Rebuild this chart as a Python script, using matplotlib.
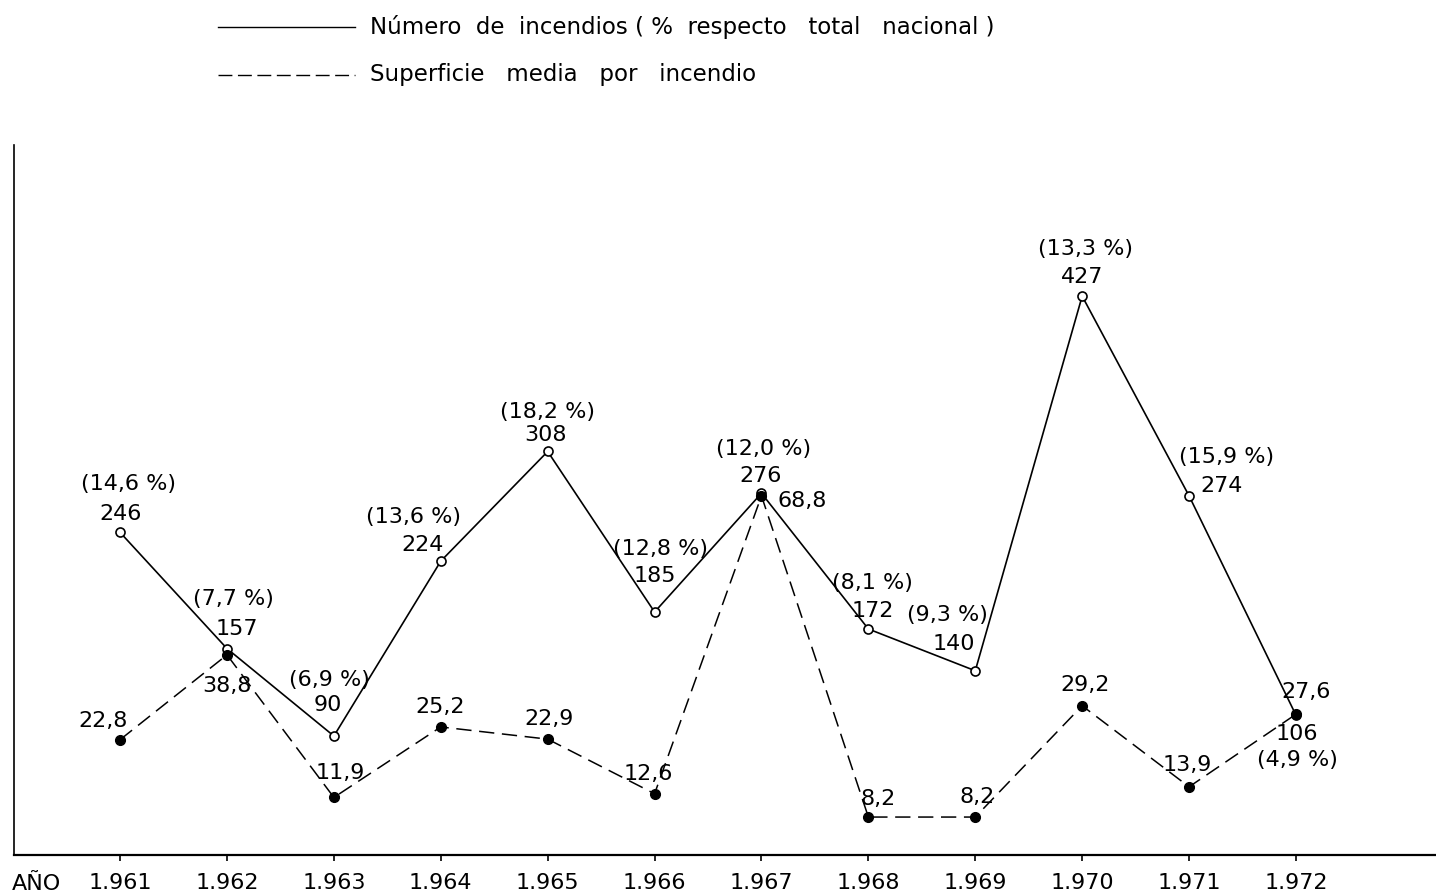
import matplotlib
matplotlib.use("Agg")
import matplotlib.pyplot as plt
from matplotlib.lines import Line2D

# ---------------- data ----------------
years = [1961, 1962, 1963, 1964, 1965, 1966, 1967, 1968, 1969, 1970, 1971, 1972]
year_labels = ["1.961", "1.962", "1.963", "1.964", "1.965", "1.966",
               "1.967", "1.968", "1.969", "1.970", "1.971", "1.972"]
num_incendios = [246, 157, 90, 224, 308, 185, 276, 172, 140, 427, 274, 106]
pct_nacional = ["14,6", "7,7", "6,9", "13,6", "18,2", "12,8",
                "12,0", "8,1", "9,3", "13,3", "15,9", "4,9"]
superficie_media = [22.8, 38.8, 11.9, 25.2, 22.9, 12.6, 68.8, 8.2, 8.2, 29.2, 13.9, 27.6]

legend_labels = ["Número  de  incendios ( %  respecto   total   nacional )",
                 "Superficie   media   por   incendio"]
axis_label = "AÑO"

# ---------------- layout (label offsets in pixels) ----------------
num_off = [(0, 18), (10, 20), (-6, 31), (-18, 16), (-2, 16), (0, 36),
           (-1, 17), (4, 18), (-21, 27), (0, 19), (32, 10), (1, -19)]
pct_off = [(8, 48), (6, 50), (-4, 56), (-27, 44), (0, 39), (6, 63),
           (2, 44), (4, 46), (-28, 56), (3, 47), (37, 39), (1, -45)]
sup_off = [(-17, 19), (0, -31), (6, 24), (-1, 20), (1, 20), (-6, 20),
           (41, -5), (10, 18), (2, 20), (3, 21), (-2, 22), (10, 22)]

FS = 16
plt.rcParams['font.family'] = ['DejaVu Sans']

fig = plt.figure(figsize=(14.36, 8.96), dpi=100)
ax = fig.add_axes([14 / 1436, 41 / 896, 1422 / 1436, 710 / 896])
ax2 = ax.twinx()

ax.set_xlim(1960.0075, 1973.31)
ax.set_ylim(-1.15, 542.8)
ax2.set_ylim(1.04, 135.0)

for a in (ax, ax2):
    for s in ("top", "right"):
        a.spines[s].set_visible(False)
    a.patch.set_visible(False)
ax2.spines["left"].set_visible(False)
ax2.spines["bottom"].set_visible(False)
ax2.set_yticks([])
ax.set_yticks([])
ax.spines["left"].set_linewidth(1.2)
ax.spines["bottom"].set_linewidth(1.6)

ax.set_xticks(years)
ax.set_xticklabels(year_labels, fontsize=FS)
ax.tick_params(axis="x", direction="out", length=4, width=1.2, pad=9)

# solid line: number of fires
ax.plot(years, num_incendios, color="black", lw=1.2, zorder=3,
        marker="o", markersize=6.5, markerfacecolor="white",
        markeredgecolor="black", markeredgewidth=1.2)
# dashed line: mean area per fire
ax2.plot(years, superficie_media, color="black", lw=1.1, dashes=(10, 5), zorder=3,
         marker="o", markersize=7, markerfacecolor="black",
         markeredgecolor="black")

for x, v, p, o1, o2 in zip(years, num_incendios, pct_nacional, num_off, pct_off):
    ax.annotate(str(v), (x, v), xytext=o1, textcoords="offset pixels",
                ha="center", va="center", fontsize=FS)
    ax.annotate(f"({p} %)", (x, v), xytext=o2, textcoords="offset pixels",
                ha="center", va="center", fontsize=FS)

for x, v, o in zip(years, superficie_media, sup_off):
    ax2.annotate(f"{v:.1f}".replace(".", ","), (x, v), xytext=o,
                 textcoords="offset pixels", ha="center", va="center", fontsize=FS)

fig.text(36 / 1436, 1 - 884 / 896, axis_label, ha="center", va="center", fontsize=FS)

# legend drawn manually at top
fig.add_artist(Line2D([218 / 1436, 355 / 1436], [1 - 27 / 896, 1 - 27 / 896],
                      color="black", lw=1.0))
fig.add_artist(Line2D([218 / 1436, 355 / 1436], [1 - 75 / 896, 1 - 75 / 896],
                      color="black", lw=1.0, dashes=(10, 4)))
fig.text(370 / 1436, 1 - 27 / 896, legend_labels[0], ha="left", va="center", fontsize=16.5)
fig.text(370 / 1436, 1 - 75 / 896, legend_labels[1], ha="left", va="center", fontsize=16.5)

fig.savefig("out.png", dpi=100)
